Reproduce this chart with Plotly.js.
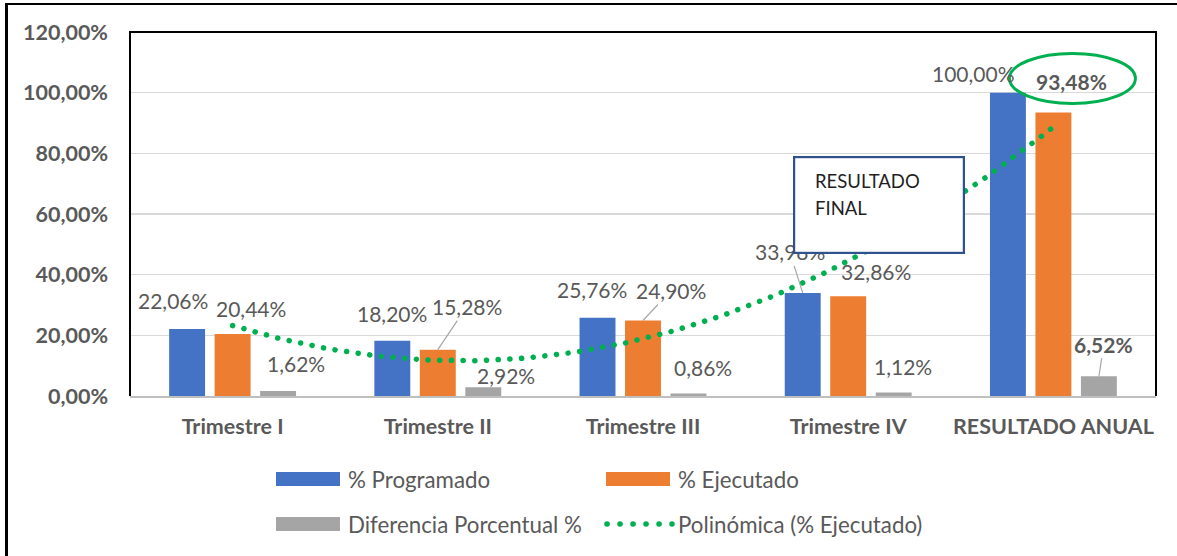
<!DOCTYPE html>
<html><head><meta charset="utf-8">
<script src="https://cdn.plot.ly/plotly-3.0.1.min.js"></script>
<style>html,body{margin:0;padding:0;background:#fff}#chart{width:1177px;height:556px}</style>
</head><body><div id="chart"></div>
<script>
// ---------------- data ----------------
const categories = ['Trimestre I', 'Trimestre II', 'Trimestre III', 'Trimestre IV', 'RESULTADO ANUAL'];
const programado = [22.06, 18.20, 25.76, 33.98, 100.00];
const ejecutado  = [20.44, 15.28, 24.90, 32.86, 93.48];
const diferencia = [1.62, 2.92, 0.86, 1.12, 6.52];
const yTickVals  = [0, 20, 40, 60, 80, 100, 120];
const seriesNames = ['% Programado', '% Ejecutado', 'Diferencia Porcentual %', 'Polinómica (% Ejecutado)'];
const boxLines = ['RESULTADO', 'FINAL'];

// ---------------- style / layout ----------------
const C = {prog: '#4472C4', ejec: '#ED7D31', dif: '#A5A5A5', trend: '#00B050', text: '#595959'};
const FONT = 'Lato, "Open Sans", sans-serif';
const W = 1177, H = 556, L = 130, R = 21, T = 32, B = 160;
const PW = W - L - R, PH = H - T - B;
const px = v => (v - L) / PW;           // pixel x -> paper
const py = v => (T + PH - v) / PH;      // pixel y -> paper
const BARGAP = 0.335, GROUPGAP = 0.21;
const slot = (1 - BARGAP) / 3;
const fmt = v => v.toFixed(2).replace('.', ',') + '%';

// label placement: [dx, dy(up)] pixel offsets from bar top, optional leader line
const place = {
  prog: [[-14, 29], [0, 27], [-6, 28], [-13, 41, 'lead'], [-34, 19]],
  ejec: [[18, 26], [29, 43, 'lead'], [28, 30, 'lead'], [28, 25], [18, 31, 'bold']],
  dif:  [[18, 28], [23, 12], [15, 26], [9, 26], [5, 32, 'lead bold']]
};

// ---------------- trendline (polynomial order 2 fit of ejecutado) ----------------
function polyfit2(xs, ys) {
  let s = [0, 0, 0, 0, 0], t = [0, 0, 0];
  xs.forEach((x, i) => {
    for (let k = 0; k < 5; k++) s[k] += Math.pow(x, k);
    for (let k = 0; k < 3; k++) t[k] += Math.pow(x, k) * ys[i];
  });
  const M = [[s[0], s[1], s[2], t[0]], [s[1], s[2], s[3], t[1]], [s[2], s[3], s[4], t[2]]];
  for (let i = 0; i < 3; i++) {
    for (let j = i + 1; j < 3; j++) {
      const f = M[j][i] / M[i][i];
      for (let k = i; k < 4; k++) M[j][k] -= f * M[i][k];
    }
  }
  const c = [0, 0, 0];
  for (let i = 2; i >= 0; i--) {
    let v = M[i][3];
    for (let k = i + 1; k < 3; k++) v -= M[i][k] * c[k];
    c[i] = v / M[i][i];
  }
  return x => c[0] + c[1] * x + c[2] * x * x;
}
const idx = categories.map((_, i) => i);
const fit = polyfit2(idx, ejecutado);
const trendX = [];
for (let x = 0; x <= idx.length - 1 + 1e-9; x += 0.02) trendX.push(x);
const trendY = trendX.map(fit);

// ---------------- traces ----------------
const traces = [
  {type: 'bar', name: seriesNames[0], x: idx, y: programado, marker: {color: C.prog}, hoverinfo: 'skip'},
  {type: 'bar', name: seriesNames[1], x: idx, y: ejecutado, marker: {color: C.ejec}, hoverinfo: 'skip'},
  {type: 'bar', name: seriesNames[2], x: idx, y: diferencia, marker: {color: C.dif}, hoverinfo: 'skip'},
  {type: 'scatter', mode: 'lines', name: seriesNames[3], x: trendX, y: trendY,
   line: {color: C.trend, width: 5.5, dash: '0.1px,11.6px'}, hoverinfo: 'skip'}
];

// ---------------- annotations ----------------
const ann = [];
const series = [['prog', programado, -slot], ['ejec', ejecutado, 0], ['dif', diferencia, slot]];
series.forEach(([key, vals, off]) => {
  vals.forEach((v, i) => {
    const [dx, dy, flag = ''] = place[key][i];
    const bold = flag.includes('bold');
    const a = {
      xref: 'x', yref: 'y', x: i + off, y: v, text: bold ? '<b>' + fmt(v) + '</b>' : fmt(v),
      font: {family: FONT, size: 21, color: C.text}, xanchor: 'center', yanchor: 'middle'
    };
    if (flag.includes('lead')) {
      Object.assign(a, {showarrow: true, arrowhead: 0, arrowwidth: 1.2, arrowcolor: '#A6A6A6',
        ax: dx, ay: -dy, axref: 'pixel', ayref: 'pixel', standoff: 0});
    } else {
      Object.assign(a, {showarrow: false, xshift: dx, yshift: dy});
    }
    ann.push(a);
  });
});

// text box "RESULTADO FINAL" (drawn after labels so it covers them)
ann.push({xref: 'paper', yref: 'paper', x: px(793), y: py(156), xanchor: 'left', yanchor: 'top',
  text: ' ', showarrow: false, width: 168, height: 94, bgcolor: '#ffffff',
  bordercolor: '#2F528F', borderwidth: 2.2, borderpad: 0});
boxLines.forEach((t, k) => {
  ann.push({xref: 'paper', yref: 'paper', x: px(813), y: py(181 + 27 * k), xanchor: 'left', yanchor: 'middle',
    text: t, showarrow: false, font: {family: FONT, size: 18.5, color: '#1F1F1F'}});
});

// manual legend (wide Excel-style swatches)
const legendItems = [
  {name: seriesNames[0], kind: 'bar', color: C.prog, x: 276, y: 479},
  {name: seriesNames[1], kind: 'bar', color: C.ejec, x: 606, y: 479},
  {name: seriesNames[2], kind: 'bar', color: C.dif, x: 276, y: 524},
  {name: seriesNames[3], kind: 'dot', color: C.trend, x: 606, y: 524}
];
const shapes = [];
legendItems.forEach(it => {
  if (it.kind === 'bar') {
    shapes.push({type: 'rect', xref: 'paper', yref: 'paper', x0: px(it.x), x1: px(it.x + 64),
      y0: py(it.y + 7), y1: py(it.y - 7), fillcolor: it.color, line: {width: 0}});
  } else {
    shapes.push({type: 'line', xref: 'paper', yref: 'paper', x0: px(it.x + 1), x1: px(it.x + 66),
      y0: py(it.y), y1: py(it.y), line: {color: it.color, width: 5.5, dash: '0.1px,12.9px'}});
  }
  ann.push({xref: 'paper', yref: 'paper', x: px(it.x + 70), y: py(it.y), xanchor: 'left', yanchor: 'middle',
    text: it.name, showarrow: false, font: {family: FONT, size: 22.3, color: C.text}});
});

// green ellipse around the annual executed value
shapes.push({type: 'circle', xref: 'x', yref: 'y', xsizemode: 'pixel', ysizemode: 'pixel',
  xanchor: idx.length - 1, yanchor: ejecutado[ejecutado.length - 1],
  x0: -44, x1: 82, y0: 9, y1: 59, line: {color: C.trend, width: 3}});

// plot-area frame (left, top, right) and outer chart frame
shapes.push({type: 'path', xref: 'paper', yref: 'paper', path: 'M0,0 L0,1 L1,1 L1,0',
  line: {color: '#000000', width: 2}});
shapes.push({type: 'line', xref: 'paper', yref: 'paper', x0: px(6.5), x1: px(6.5), y0: py(3), y1: py(560),
  line: {color: '#000000', width: 3}});
shapes.push({type: 'line', xref: 'paper', yref: 'paper', x0: px(5), x1: px(1180), y0: py(4), y1: py(4),
  line: {color: '#000000', width: 2}});

const layout = {
  width: W, height: H, margin: {l: L, r: R, t: T, b: B, pad: 0},
  paper_bgcolor: '#ffffff', plot_bgcolor: '#ffffff',
  showlegend: false, barmode: 'group', bargap: BARGAP, bargroupgap: GROUPGAP,
  separators: ',.',
  font: {family: FONT, color: C.text},
  xaxis: {range: [-0.5, categories.length - 0.5], tickmode: 'array', tickvals: idx, ticktext: categories,
    showgrid: false, zeroline: false, showline: true, linecolor: '#BFBFBF', linewidth: 2,
    ticks: '', ticklabelstandoff: 10,
    tickfont: {family: FONT, size: 21.5, color: C.text, weight: 'bold'}},
  yaxis: {range: [0, 120], tickmode: 'array', tickvals: yTickVals,
    ticktext: yTickVals.map(v => '<b>' + fmt(v) + '</b>'),
    showgrid: true, gridcolor: '#D9D9D9', gridwidth: 1.5, zeroline: false, showline: false,
    ticks: '', ticklabelstandoff: 21,
    tickfont: {family: FONT, size: 21.5, color: C.text}},
  annotations: ann, shapes: shapes
};

Plotly.newPlot('chart', traces, layout, {staticPlot: true, displayModeBar: false}).then(() => {
  document.querySelectorAll('#chart path').forEach(p => {
    const s = p.style.stroke || p.getAttribute('stroke') || '';
    if (s.replace(/\s/g, '') === 'rgb(0,176,80)' && (p.style.strokeDasharray || '').length) {
      p.style.strokeLinecap = 'round';
    }
  });
});
</script>
</body></html>
